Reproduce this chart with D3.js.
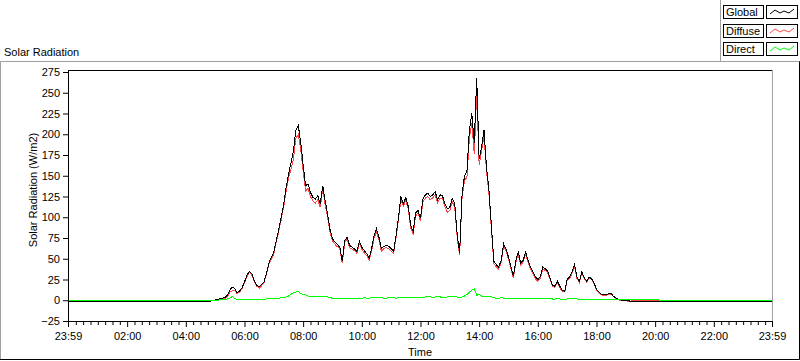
<!DOCTYPE html>
<html>
<head>
<meta charset="utf-8">
<script src="https://cdn.jsdelivr.net/npm/d3@7"></script>
<style>
body { margin: 0; background: #fff; }
svg text { font-family: "Liberation Sans", Arial, sans-serif; font-size: 11px; fill: #000; }
</style>
</head>
<body>
<div id="canvas"></div>
<script>
// sampled every 5 min from 04:45 to 20:10, plus both 23:59 ends of the axis
var sampleStart = 285, sampleEnd = 1210, sampleStep = 5;

var globalRad = [
  -1.2,
  -1.2, -1.2, -0.5,
  0.5, 1, 2, 2.5, 3, 6, 12, 16, 14, 9, 11, 15,               // 05
  22, 30, 35, 32, 24, 18, 16, 19, 22, 33, 45, 52,             // 06
  58, 72, 85, 100, 115, 135, 152, 165, 179, 205, 211, 190,    // 07
  163, 138, 140, 130, 124, 122, 126, 116, 138, 120, 104, 85,  // 08
  74, 70, 67, 64, 47, 72, 76, 66, 64, 62, 59, 71,             // 09
  64, 60, 56, 51, 62, 78, 86, 76, 62, 65, 66, 65,             // 10
  62, 59, 78, 100, 125, 116, 124, 113, 90, 83, 105, 108,      // 11
  99, 122, 127, 129, 125, 127, 131, 121, 127, 126, 116, 110,  // 12
  112, 123, 117, 80, 57, 127, 150, 155, 205, 225, 190, 268,   // 13
  170, 185, 205, 160, 133, 90, 47, 43, 40, 48, 68, 62,        // 14
  52, 40, 29, 48, 58, 45, 48, 58, 48, 40, 34, 28,             // 15
  25, 28, 40, 38, 35, 27, 18, 17, 23, 17, 12, 11,             // 16
  25, 28, 34, 43, 28, 23, 34, 27, 23, 28, 26, 21,             // 17
  13, 10, 7, 6.6, 6.6, 8, 8, 4.6, 2.6, 1, 0.3, 0,             // 18
  0, -0.6, -1.2, -1.2, -1.2, -1.2, -1.2, -1.2, -1.2, -1.2, -1.2, -1.2, // 19
  -1.2, -1.2, -1.2,
  -1.2
];

var diffuseRad = [
  -1.2,
  -1.2, -1.2, -0.5,
  0.5, 1, 1.5, 2, 2, 4.5, 9.5, 11.5, 12, 8, 10, 14,
  21, 28.5, 33.5, 30.5, 23, 17, 14.5, 17.5, 21, 31.5, 43, 50,
  56, 70, 82.5, 97, 112, 131, 147, 158, 170, 195, 200, 182,
  156, 131.5, 135, 125, 119.5, 117, 121, 112, 134, 115, 100, 82,
  71.5, 67.5, 64.5, 62, 44.5, 69.5, 74, 63.5, 61.5, 60, 56.5, 68.5,
  61.5, 57, 53.5, 48.5, 59, 75, 82.5, 73, 59, 62.5, 63.5, 62,
  59, 56, 75.5, 97, 121.5, 113, 120.5, 110, 86.5, 80, 101.5, 105,
  95.5, 118.5, 123, 125, 121, 123.5, 127, 117, 123, 122.5, 112.5, 106,
  108, 118.5, 112, 76, 54, 123, 145, 148, 195, 213, 176, 250,
  163, 180, 198, 156, 128.5, 86, 44, 40.5, 37.5, 45, 65.5, 59.5,
  49.5, 37.5, 27, 45.5, 55.5, 42.5, 46, 55.5, 46, 38, 31.5, 26,
  23, 26.5, 37.5, 36, 33.5, 25, 16.5, 15.5, 21, 15.5, 10.5, 10,
  23.5, 26, 32.5, 41, 26.5, 21.5, 33, 26, 21.5, 27, 25, 20,
  12, 9.5, 6.5, 6, 6, 7.5, 7.5, 4, 2, 0.5, -0.2, -0.5,
  -0.5, -1.2, -1.2, 0, 0, 0, 0, 0, 0, 0, 0, 0,
  0, 0, -1.2,
  -1.2
];

var directRad = [
  0,
  0, 0, 0,
  0, 0, 0.5, 0.5, 1, 1.5, 2.5, 4.5, 2, 1, 1, 1,
  1, 1.5, 1.5, 1.5, 1, 1, 1.5, 1.5, 1, 1.5, 2, 2,
  2, 2, 2.5, 3, 3, 4, 5, 7, 9, 10, 11, 8,
  7, 6.5, 5, 5, 4.5, 5, 5, 4, 4, 5, 4, 3,
  2.5, 2.5, 2.5, 2, 2.5, 2.5, 2, 2.5, 2.5, 2, 2.5, 2.5,
  2.5, 3, 2.5, 2.5, 3, 3, 3.5, 3, 3, 2.5, 2.5, 3,
  3, 3, 2.5, 3, 3.5, 3, 3.5, 3, 3.5, 3, 3.5, 3,
  3.5, 3.5, 4, 4, 4, 3.5, 4, 4, 4, 3.5, 3.5, 4,
  4, 4.5, 5, 4, 3, 4, 5, 7, 10, 12, 14, 6,
  7, 5, 5, 4, 4.5, 4, 3, 2.5, 2.5, 3, 2.5, 2.5,
  2.5, 2.5, 2, 2.5, 2.5, 2.5, 2, 2.5, 2, 2, 2.5, 2,
  2, 1.5, 2.5, 2, 1.5, 2, 1.5, 1.5, 2, 1.5, 1.5, 1,
  1.5, 2, 1.5, 2, 1.5, 1.5, 1, 1, 1.5, 1, 1, 1,
  1, 1, 0.5, 0.5, 0.5, 0.5, 0.5, 0.5, 0.5, 0.5, 0.5, 0.5,
  0.5, 0.5, 0.5, 1, 1, 1, 1, 1, 1, 1, 1, 1,
  1, 1, 0,
  0
];

var seriesNames = ['Global', 'Diffuse', 'Direct'];
var seriesColors = ['#000000', '#ff4646', '#00ff00'];

var yTicks = [-25, 0, 25, 50, 75, 100, 125, 150, 175, 200, 225, 250, 275];
var xMajorTicks = [-1, 120, 240, 360, 480, 600, 720, 840, 960, 1080, 1200, 1320, 1439];
var xTickLabels = ['23:59', '02:00', '04:00', '06:00', '08:00', '10:00', '12:00',
                   '14:00', '16:00', '18:00', '20:00', '22:00', '23:59'];

var times = [-1].concat(d3.range(sampleStart, sampleEnd + 1, sampleStep), [1439]);

var W = 800, H = 361;
var svg = d3.select('#canvas').append('svg')
    .attr('width', W).attr('height', H);

var x = d3.scaleLinear().domain([-1, 1439]).range([68, 772]);
var y = d3.scaleLinear().domain([-25, 275]).range([321, 72]);

// panel frame
svg.append('path').attr('d', 'M0.5,360V61.5H800').attr('fill', 'none').attr('stroke', '#a0a0a0');
svg.append('path').attr('d', 'M799.5,61.5V359.5H0').attr('fill', 'none').attr('stroke', '#000');

svg.append('text').attr('x', 4).attr('y', 56).text('Solar Radiation');

// plot frame
svg.append('line').attr('x1', 68).attr('x2', 773).attr('y1', 70.5).attr('y2', 70.5).attr('stroke', '#000');
svg.append('line').attr('x1', 772.5).attr('x2', 772.5).attr('y1', 70).attr('y2', 322).attr('stroke', '#a0a0a0');

// data lines, diffuse underneath global, direct on top
var line = d3.line()
    .x(function(d, i){ return x(times[i]); })
    .y(function(d){ return y(d); });

var plot = svg.append('g').attr('shape-rendering', 'crispEdges');
[[diffuseRad, 1], [globalRad, 0], [directRad, 2]].forEach(function(s){
    plot.append('path')
        .datum(s[0])
        .attr('d', line)
        .attr('fill', 'none')
        .attr('stroke', seriesColors[s[1]])
        .attr('stroke-width', 1);
});

// y axis
var yAxis = svg.append('g')
    .attr('transform', 'translate(68,0)')
    .call(d3.axisLeft(y).tickValues(yTicks).tickSize(5).tickPadding(3));
yAxis.select('.domain').remove();
yAxis.selectAll('text').style('font-size', '11px').style('font-family', '"Liberation Sans", Arial, sans-serif');
svg.append('line').attr('x1', 68.5).attr('x2', 68.5).attr('y1', 70).attr('y2', 322).attr('stroke', '#000');

// x axis: minor ticks every 15 min, labelled ticks every 2 h
var minor = d3.range(15, 1439, 15).filter(function(m){ return m % 120 !== 0; });
var xMinor = svg.append('g')
    .attr('transform', 'translate(0,321)')
    .call(d3.axisBottom(x).tickValues(minor).tickSize(4).tickFormat(''));
xMinor.select('.domain').remove();

var xAxis = svg.append('g')
    .attr('transform', 'translate(0,321)')
    .call(d3.axisBottom(x).tickValues(xMajorTicks).tickSize(6).tickPadding(5)
        .tickFormat(function(d, i){ return xTickLabels[i]; }));
xAxis.select('.domain').remove();
xAxis.selectAll('text').style('font-size', '11px').style('font-family', '"Liberation Sans", Arial, sans-serif');
svg.append('line').attr('x1', 68).attr('x2', 773).attr('y1', 321.5).attr('y2', 321.5).attr('stroke', '#000');

svg.append('text').attr('x', 420).attr('y', 356).attr('text-anchor', 'middle').text('Time');
svg.append('text')
    .attr('transform', 'translate(37,190) rotate(-90)')
    .attr('text-anchor', 'middle')
    .text('Solar Radiation (W/m2)');

// legend
var legend = svg.append('g');
legend.append('path').attr('d', 'M720.5,0V61').attr('stroke', '#a0a0a0');
var item = legend.selectAll('.item')
    .data(seriesNames)
  .enter().append('g')
    .attr('class', 'item')
    .attr('transform', function(d, i){ return 'translate(0,' + (Math.round(5 + i * 18.5)) + ')'; });

item.append('rect')
    .attr('x', 723.5).attr('y', 0.5).attr('width', 40).attr('height', 13)
    .attr('fill', '#fff').attr('stroke', '#000');
item.append('text').attr('x', 726).attr('y', 11).text(function(d){ return d; });
item.append('rect')
    .attr('x', 766.5).attr('y', 0.5).attr('width', 31).attr('height', 13)
    .attr('fill', '#fff').attr('stroke', '#000');
item.append('polyline')
    .attr('points', '770,9 775,5 780,8 784,6 789,8 794,4')
    .attr('fill', 'none')
    .attr('stroke', function(d, i){ return seriesColors[i]; });
</script>
</body>
</html>
